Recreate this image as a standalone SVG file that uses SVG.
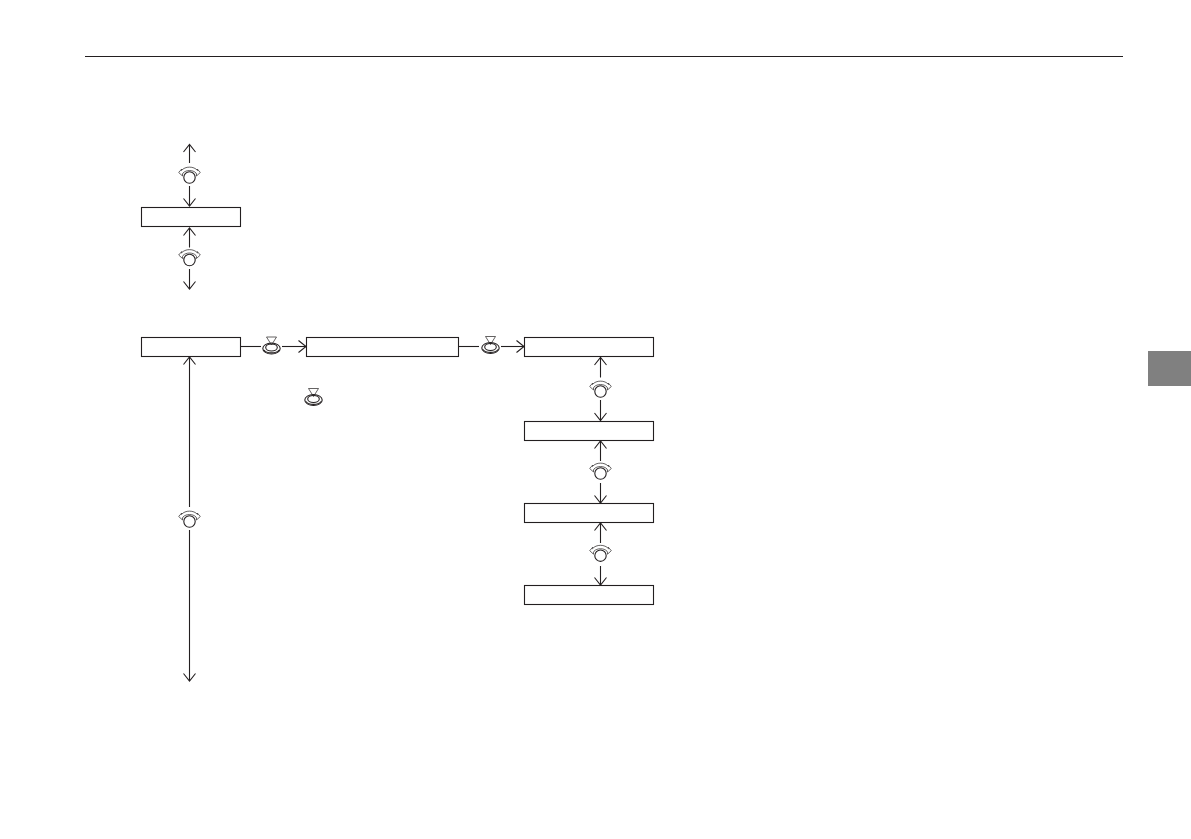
<svg xmlns="http://www.w3.org/2000/svg" width="1191" height="839" viewBox="0 0 1191 839">
<style>
.b{fill:#fff;stroke:#231f20;stroke-width:1.1}
.c{fill:none;stroke:#231f20;stroke-width:1.1}
.t{fill:none;stroke:#231f20;stroke-width:.7}
</style>
<defs>
<marker id="a" markerUnits="userSpaceOnUse" markerWidth="16" markerHeight="16" refX="12" refY="8" orient="auto"><path d="M4.500 2L12 8L4.500 14" fill="none" stroke="#231f20" stroke-width="1.1"/></marker>
<g id="dial">
<path class="t" d="M-8-7C-4.500-11.500 4.500-11.500 8-7M-6.500-4.500C-3.500-7.800 3.500-7.800 6.500-4.500"/>
<path class="t" d="M-8-7L-7.800-8.500L-10.800-5L-7-1.500L-7-3.500L-6.500-4.500M8-7L7.800-8.500L10.800-5L7-1.500L7-3.500L6.500-4.500"/>
<circle class="c" cx="0" cy="0" r="5.700" stroke-width="1.200"/>
</g>
<g id="press">
<path class="t" d="M-5-9H5L0-1Z"/>
<ellipse class="c" cx="0" cy="2.500" rx="8.700" ry="5.500" stroke-width=".9"/>
<ellipse class="c" cx="0" cy="1.500" rx="5.800" ry="3.500" stroke-width=".9"/>
<path class="c" d="M-7.500 4C-5 7.800 5 7.800 7.500 4" stroke-width="1.800"/>
</g>
</defs>
<rect id="tab" x="1148" y="351" width="43" height="35" fill="#808080"/>
<g id="connectors">
<path class="c" d="M85 56.500H1123"/>
<path class="c" marker-end="url(#a)" d="M189.500 163V144.500"/>
<path class="c" marker-end="url(#a)" d="M189.500 186V206"/>
<path class="c" marker-end="url(#a)" d="M189.500 247.500V228"/>
<path class="c" marker-end="url(#a)" d="M189.500 269V289"/>
<path class="c" d="M241 346.500H261"/>
<path class="c" marker-end="url(#a)" d="M282 346.500H306"/>
<path class="c" d="M459 346.500H479"/>
<path class="c" marker-end="url(#a)" d="M501 346.500H524"/>
<path class="c" marker-end="url(#a)" d="M189.500 507V357"/>
<path class="c" marker-end="url(#a)" d="M189.500 530V681"/>
<path class="c" marker-end="url(#a)" d="M600.500 377.500V357.500"/>
<path class="c" marker-end="url(#a)" d="M600.500 400V420.500"/>
<path class="c" marker-end="url(#a)" d="M600.500 461V441"/>
<path class="c" marker-end="url(#a)" d="M600.500 483V503"/>
<path class="c" marker-end="url(#a)" d="M600.500 543V523"/>
<path class="c" marker-end="url(#a)" d="M600.500 566V585"/>
</g>
<g id="n1"><rect class="b" x="141.500" y="207.500" width="99" height="19"/></g>
<g id="n2"><rect class="b" x="141.500" y="337.500" width="99" height="19"/></g>
<g id="n3"><rect class="b" x="306.500" y="337.500" width="152" height="19"/></g>
<g id="n4"><rect class="b" x="524.500" y="337.500" width="129" height="19"/></g>
<g id="n5"><rect class="b" x="524.500" y="421.500" width="129" height="19"/></g>
<g id="n6"><rect class="b" x="524.500" y="503.500" width="129" height="19"/></g>
<g id="n7"><rect class="b" x="524.500" y="585.500" width="129" height="19"/></g>
<g id="dials">
<use href="#dial" x="189.500" y="177.500"/>
<use href="#dial" x="189.500" y="260"/>
<use href="#dial" x="189.500" y="521.500"/>
<use href="#dial" x="600.500" y="391.500"/>
<use href="#dial" x="600.500" y="473.500"/>
<use href="#dial" x="600.500" y="555.700"/>
</g>
<g id="presses">
<use href="#press" x="271.500" y="346"/>
<use href="#press" x="490.500" y="345.500"/>
<use href="#press" x="313.500" y="397.500"/>
</g>
</svg>
